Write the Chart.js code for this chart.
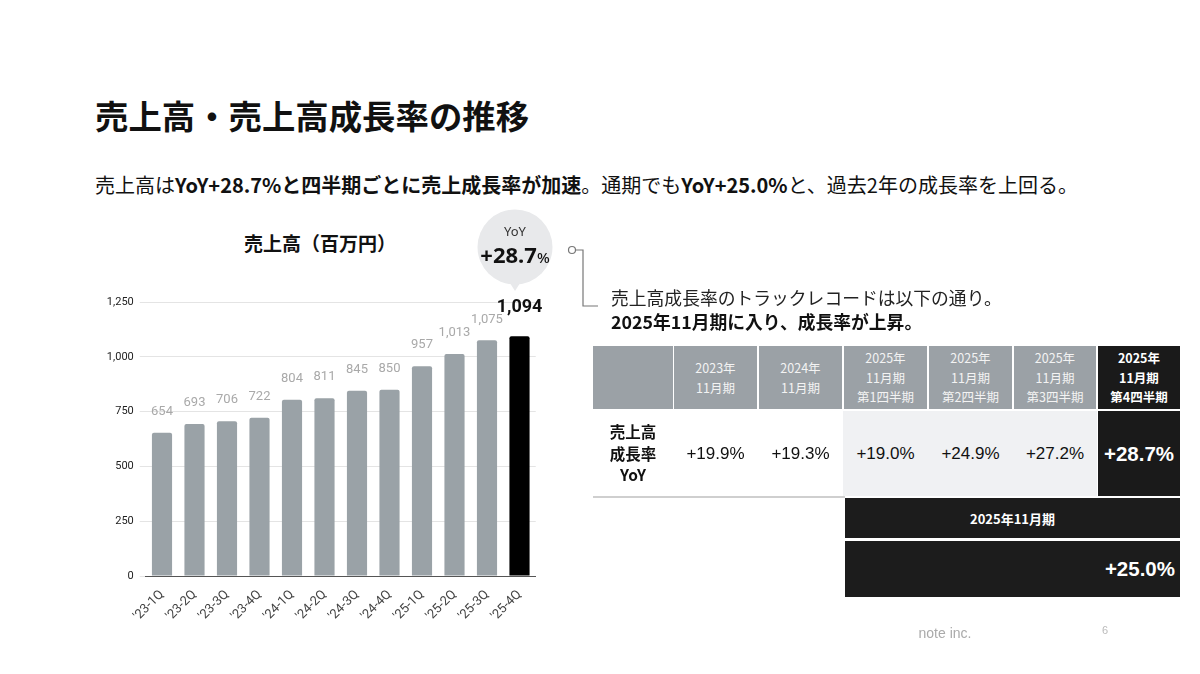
<!DOCTYPE html>
<html lang="ja">
<head>
<meta charset="utf-8">
<script src="https://cdn.jsdelivr.net/npm/chart.js@4.4.1/dist/chart.umd.min.js"></script>
<style>
  html, body { margin: 0; padding: 0; background: #fff; }
  body { width: 1200px; height: 674px; position: relative; overflow: hidden;
         font-family: "Noto Sans CJK JP", "Noto Sans", sans-serif; color: #111; }
  .t { position: absolute; white-space: nowrap; line-height: 1.2; transform: translateY(-50%); }
  .c { transform: translate(-50%, -50%); text-align: center; }
  #title { left: 95px; top: 115px; font-size: 33.4px; font-weight: 700; }
  #lead { left: 95px; top: 185px; font-size: 20px; }
  #lead b { font-weight: 700; }
  #chartTitle { left: 320px; top: 243px; font-size: 19px; font-weight: 700; }
  #chartBox { position: absolute; left: 100px; top: 280px; width: 450px; height: 350px; }
  #overlay { position: absolute; left: 0; top: 0; }
  #yoyLabel { left: 515px; top: 232px; font-family: "Noto Sans", sans-serif; font-size: 13px; color: #333; }
  #yoyValue { left: 515px; top: 254px; font-family: "Noto Sans", sans-serif; font-size: 22px; font-weight: 700; color: #111; }
  #yoyValue span { font-size: 15px; font-weight: 500; }
  #note1 { left: 611px; top: 298px; font-size: 17.8px; color: #222; }
  #note2 { left: 611px; top: 322px; font-size: 17.8px; font-weight: 700; }
  .cell { position: absolute; display: flex; flex-direction: column; align-items: center; justify-content: center; text-align: center; }
  .head { top: 346px; height: 63px; background: #9ba1a6; color: #f3f3f3; font-size: 12.5px; line-height: 19.5px; }
  .head.last { background: #1a1a1a; color: #fff; font-weight: 700; }
  .row { top: 411px; height: 85px; font-family: "Liberation Sans", Arial, sans-serif; font-size: 17px; color: #111; }
  .row.shade { background: #f0f1f3; }
  .row.last { background: #1a1a1a; color: #fff; font-weight: 700; font-size: 20.5px; }
  .row.name { font-family: "Noto Sans CJK JP", sans-serif; font-weight: 700; font-size: 15.5px; line-height: 21.5px; }
  #rowLine { position: absolute; left: 593px; top: 496px; width: 252px; height: 1.5px; background: #cfcfcf; }
  .fy { position: absolute; left: 845px; width: 335px; background: #1c1c1c; color: #fff; font-weight: 700; display: flex; align-items: center; }
  #fyHead { top: 498px; height: 40px; justify-content: center; font-size: 13px; }
  #fyValue { top: 541px; height: 56px; justify-content: flex-end; padding-right: 5px; box-sizing: border-box;
             font-family: "Liberation Sans", Arial, sans-serif; font-size: 20.5px; }
  #footer { left: 945px; top: 633px; font-family: "Liberation Sans", Arial, sans-serif; font-size: 14px; color: #aaa; }
  #page { left: 1105px; top: 631px; font-family: "Liberation Sans", Arial, sans-serif; font-size: 11px; color: #bbb; }
</style>
</head>
<body>

<div id="title" class="t">売上高・売上高成長率の推移</div>
<div id="lead" class="t">売上高は<b>YoY+28.7%と四半期ごとに売上成長率が加速</b>。通期でも<b>YoY+25.0%</b>と、過去2年の成長率を上回る。</div>
<div id="chartTitle" class="t c">売上高（百万円）</div>

<div id="chartBox"><canvas id="salesChart" width="450" height="350"></canvas></div>

<svg id="overlay" width="1200" height="674">
  <circle cx="515" cy="247" r="37.5" fill="#e8e9eb"/>
  <polygon points="508,280 522,280 515,291" fill="#e8e9eb"/>
  <circle cx="572" cy="250" r="3.5" fill="#fff" stroke="#777" stroke-width="1.2"/>
  <path d="M575.5 250 H583 V306 H598" fill="none" stroke="#777" stroke-width="1.2"/>
</svg>
<div id="yoyLabel" class="t c">YoY</div>
<div id="yoyValue" class="t c"></div>

<div id="note1" class="t">売上高成長率のトラックレコードは以下の通り。</div>
<div id="note2" class="t">2025年11月期に入り、成長率が上昇。</div>

<div id="growthTable"></div>
<div id="rowLine"></div>
<div id="fyHead" class="fy"></div>
<div id="fyValue" class="fy"></div>

<div id="footer" class="t c">note inc.</div>
<div id="page" class="t c">6</div>

<script>
// Chart data
const quarters = ["'23-1Q", "'23-2Q", "'23-3Q", "'23-4Q", "'24-1Q", "'24-2Q",
                  "'24-3Q", "'24-4Q", "'25-1Q", "'25-2Q", "'25-3Q", "'25-4Q"];
const sales = [654, 693, 706, 722, 804, 811, 845, 850, 957, 1013, 1075, 1094];
const yTicks = [0, 250, 500, 750, 1000, 1250];
const latestYoY = 28.7;

// Table data
const periodHeads = [
  ['2023年', '11月期'],
  ['2024年', '11月期'],
  ['2025年', '11月期', '第1四半期'],
  ['2025年', '11月期', '第2四半期'],
  ['2025年', '11月期', '第3四半期'],
  ['2025年', '11月期', '第4四半期']
];
const growthRates = [19.9, 19.3, 19.0, 24.9, 27.2, 28.7];
const rowName = ['売上高', '成長率', 'YoY'];
const fullYearLabel = '2025年11月期';
const fullYearRate = 25.0;

const pct = v => '+' + v.toFixed(1) + '%';

document.getElementById('yoyValue').innerHTML = '+' + latestYoY.toFixed(1) + '<span>%</span>';

// table cells
const colLeft = [593, 674, 759, 844, 929, 1014, 1098];
const colWidth = [80, 83, 83, 83, 83, 82, 82];
const table = document.getElementById('growthTable');
function addCell(cls, i, html, grow) {
  const d = document.createElement('div');
  d.className = 'cell ' + cls;
  d.style.left = (colLeft[i] - (grow ? 1 : 0)) + 'px';
  d.style.width = (colWidth[i] + (grow ? 2 : 0)) + 'px';
  d.innerHTML = html;
  table.appendChild(d);
}
addCell('head', 0, '');
addCell('row name', 0, rowName.join('<br>'));
periodHeads.forEach((lines, i) => {
  const last = i === periodHeads.length - 1;
  addCell('head' + (last ? ' last' : ''), i + 1, lines.join('<br>'));
  let cls = 'row';
  const shaded = !last && lines.length > 2;
  if (last) cls += ' last';
  else if (shaded) cls += ' shade';
  addCell(cls, i + 1, pct(growthRates[i]), shaded);
});
document.getElementById('fyHead').textContent = fullYearLabel;
document.getElementById('fyValue').textContent = pct(fullYearRate);

// value labels above each bar
const valueLabels = {
  id: 'valueLabels',
  afterDatasetsDraw(chart) {
    const ctx = chart.ctx;
    const bars = chart.getDatasetMeta(0).data;
    ctx.save();
    ctx.textAlign = 'center';
    ctx.textBaseline = 'middle';
    bars.forEach((bar, i) => {
      const last = i === sales.length - 1;
      ctx.font = last ? 'bold 18px Roboto' : '13px Roboto';
      ctx.fillStyle = last ? '#111' : '#a9a9a9';
      ctx.fillText(sales[i].toLocaleString('en-US'), bar.x, bar.y - (last ? 29 : 21));
    });
    ctx.restore();
  }
};

const barColors = sales.map((v, i) => i === sales.length - 1 ? '#000000' : '#9aa2a7');

const ctx = document.getElementById('salesChart').getContext('2d');
const salesChart = new Chart(ctx, {
  type: 'bar',
  data: {
    labels: quarters,
    datasets: [{
      data: sales,
      backgroundColor: barColors,
      borderRadius: { topLeft: 2, topRight: 2 },
      borderSkipped: 'bottom',
      categoryPercentage: 1,
      barPercentage: 0.62
    }]
  },
  options: {
    responsive: false,
    animation: false,
    locale: 'en-US',
    layout: { padding: { top: 22, right: 14.25, left: 0, bottom: 0 } },
    plugins: {
      legend: { display: false },
      tooltip: { enabled: false }
    },
    scales: {
      x: {
        grid: { display: false },
        border: { color: '#555', width: 1 },
        ticks: {
          minRotation: 45, maxRotation: 45, padding: 3,
          color: '#444', font: { family: 'Roboto', size: 13 }
        },
        afterFit: s => { s.height = 54; }
      },
      y: {
        min: yTicks[0],
        max: yTicks[yTicks.length - 1],
        grid: { color: '#e4e4e4', tickLength: 6 },
        border: { display: false },
        ticks: { color: '#222', font: { family: 'Roboto', size: 11 }, padding: 6 },
        afterBuildTicks: axis => { axis.ticks = yTicks.map(v => ({ value: v })); },
        afterFit: s => { s.width = 45.75; }
      }
    }
  },
  plugins: [valueLabels]
});
</script>
</body>
</html>
